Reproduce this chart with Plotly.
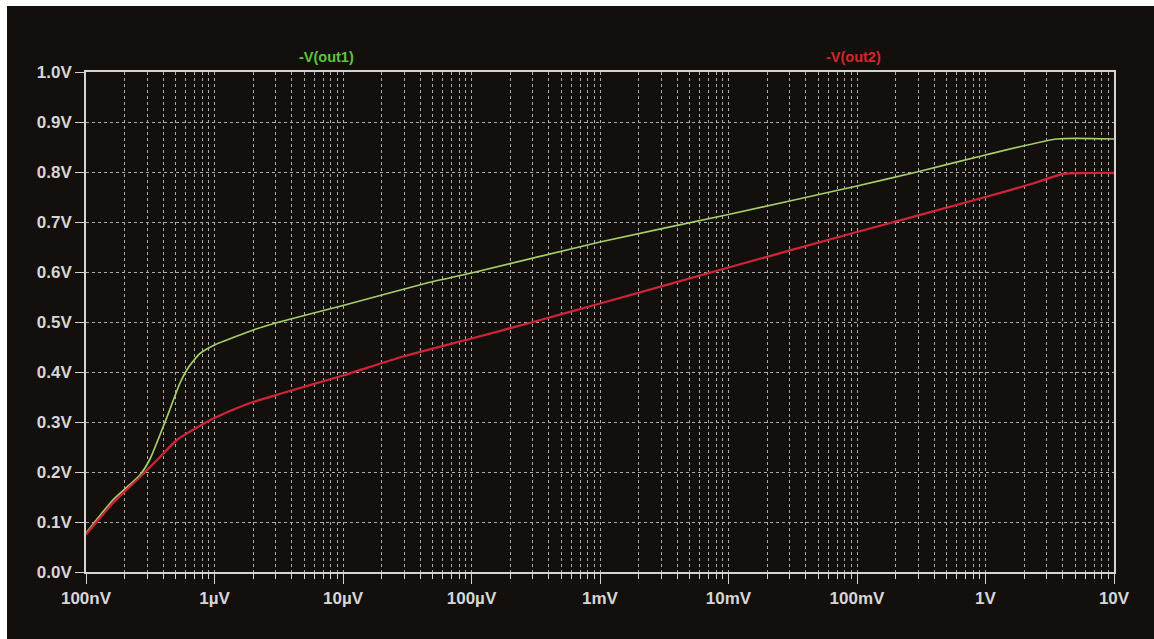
import plotly.graph_objects as go

# Sweep input (volts) and the two output curves
out1_x = [1e-7, 1.62e-7, 2.63e-7, 3.15e-7, 4.27e-7, 5.39e-7, 6.3e-7, 7.7e-7, 1e-6,
          1.5e-6, 2e-6, 3.2e-6, 1e-5, 4.5e-5, 1e-4, 1e-3, 1e-2, 0.1,
          0.293, 1, 3.6, 10]
out1_y = [0.078, 0.144, 0.194, 0.226, 0.31, 0.378, 0.41, 0.437, 0.454,
          0.472, 0.484, 0.50, 0.533, 0.578, 0.598, 0.660, 0.715, 0.772,
          0.80, 0.834, 0.866, 0.866]

out2_x = [1e-7, 1.62e-7, 2.63e-7, 3.57e-7, 5.1e-7, 8.7e-7, 1e-6, 1.32e-6, 2e-6,
          3.2e-6, 1e-5, 2.93e-5, 1e-4, 3.02e-4, 1e-3, 1e-2, 0.1,
          1, 2.34, 4.0, 10]
out2_y = [0.075, 0.138, 0.19, 0.224, 0.264, 0.30, 0.308, 0.322, 0.34,
          0.356, 0.393, 0.431, 0.467, 0.50, 0.537, 0.609, 0.68,
          0.75, 0.777, 0.796, 0.798]

x_tickvals = [1e-7, 1e-6, 1e-5, 1e-4, 1e-3, 1e-2, 1e-1, 1, 10]
x_ticktext = ["100nV", "1µV", "10µV", "100µV", "1mV", "10mV", "100mV", "1V", "10V"]
y_tickvals = [i / 10 for i in range(11)]
y_ticktext = [f"{v:.1f}V" for v in y_tickvals]

trace_names = ["-V(out1)", "-V(out2)"]

BG = "#130f0d"
AXIS = "#d4d4d4"
GRID = "#acacac"
GREEN_LINE = "#a6cf6a"
RED_LINE = "#cf2438"
GREEN_TXT = "#5cc43c"
RED_TXT = "#d8252b"

# minor log positions (2..9 within every decade)
minor_vals = [m * 10.0 ** k for k in range(-7, 1) for m in range(2, 10)]

fig = go.Figure()
fig.add_trace(go.Scatter(x=out1_x, y=out1_y, mode="lines", name=trace_names[0],
                         line=dict(color=GREEN_LINE, width=1.7, shape="spline",
                                   smoothing=0.5)))
fig.add_trace(go.Scatter(x=out2_x, y=out2_y, mode="lines", name=trace_names[1],
                         line=dict(color=RED_LINE, width=2.3, shape="spline",
                                   smoothing=0.5)))

W, H = 1154, 639
L, R, T, B = 86, 1114, 72, 572
pw, ph = R - L, B - T

def px_x(p):
    return (p - L) / pw

def px_y(p):
    return (B - p) / ph

# white frame strips along the top and left edge of the page
fig.add_shape(type="rect", xref="paper", yref="paper", layer="below",
              x0=px_x(0), x1=px_x(7), y0=px_y(H), y1=px_y(0),
              fillcolor="white", line_width=0)
fig.add_shape(type="rect", xref="paper", yref="paper", layer="below",
              x0=px_x(0), x1=px_x(W), y0=px_y(6), y1=px_y(0),
              fillcolor="white", line_width=0)

tick_font = dict(family="Liberation Sans, Arial, sans-serif", size=17, color="#d6d6d6",
                 weight="bold")

fig.add_annotation(text=trace_names[0], xref="paper", yref="paper",
                   x=px_x(326), y=px_y(57), showarrow=False,
                   xanchor="center", yanchor="middle",
                   font=dict(family="Liberation Sans, Arial, sans-serif", size=14.5,
                             color=GREEN_TXT, weight="bold"))
fig.add_annotation(text=trace_names[1], xref="paper", yref="paper",
                   x=px_x(853), y=px_y(57), showarrow=False,
                   xanchor="center", yanchor="middle",
                   font=dict(family="Liberation Sans, Arial, sans-serif", size=14.5,
                             color=RED_TXT, weight="bold"))

fig.update_layout(
    width=W, height=H,
    margin=dict(l=L, r=W - R, t=T, b=H - B, pad=0),
    paper_bgcolor=BG, plot_bgcolor=BG,
    showlegend=False,
    xaxis=dict(type="log", range=[-7, 1], tickvals=x_tickvals, ticktext=x_ticktext,
               showgrid=True, gridcolor=GRID, griddash="dot", gridwidth=1,
               showline=True, linecolor=AXIS, linewidth=1.5, mirror=True,
               ticks="outside", ticklen=10, tickcolor=AXIS, tickwidth=1.3,
               tickfont=tick_font, zeroline=False,
               minor=dict(tickvals=minor_vals, showgrid=True, gridcolor=GRID,
                          griddash="dot", gridwidth=1, ticks="outside", ticklen=5,
                          tickcolor=AXIS, tickwidth=1.2)),
    yaxis=dict(range=[0, 1], tickvals=y_tickvals, ticktext=y_ticktext,
               showgrid=True, gridcolor=GRID, griddash="dot", gridwidth=1,
               showline=True, linecolor=AXIS, linewidth=1.5, mirror=True,
               ticks="outside", ticklen=9, tickcolor=AXIS, tickwidth=1.3,
               tickfont=tick_font, zeroline=False),
)

fig.write_html("out.html")
